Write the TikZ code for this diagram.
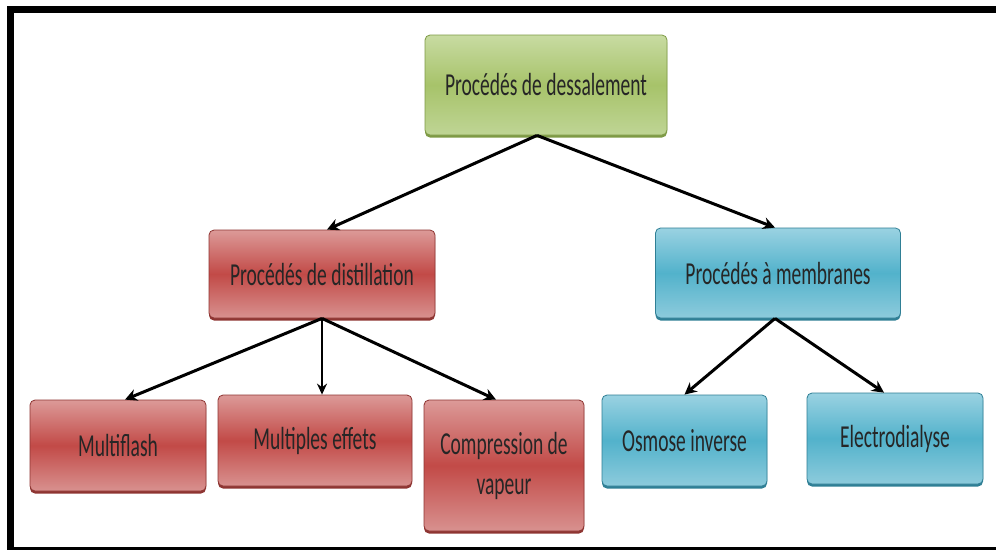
\documentclass[tikz,border=0pt]{standalone}
\usepackage{fontspec}
\setmainfont[FakeStretch=0.61]{Carlito}
\usetikzlibrary{arrows.meta,shadows}
\definecolor{gtop}{HTML}{C8DBA2}
\definecolor{gmid}{HTML}{A7C36A}
\definecolor{gbot}{HTML}{BFD595}
\definecolor{gdark}{HTML}{7E9A45}
\definecolor{rtop}{HTML}{DC9A98}
\definecolor{rmid}{HTML}{C24A47}
\definecolor{rbot}{HTML}{D8918F}
\definecolor{rdark}{HTML}{8E3532}
\definecolor{btop}{HTML}{9AD2E2}
\definecolor{bmid}{HTML}{52B2CB}
\definecolor{bbot}{HTML}{8DCBDC}
\definecolor{bdark}{HTML}{2F7F95}
\tikzset{
  boxbase/.style={rounded corners=5pt, align=center, inner sep=2pt,
    font=\fontsize{32}{40}\selectfont, text=black!85},
  greenbox/.style={boxbase, draw=gdark, line width=0.8pt, top color=gtop, bottom color=gbot, middle color=gmid,
    drop shadow={shadow xshift=0pt, shadow yshift=-2.5pt, fill=gdark, opacity=1}},
  redbox/.style={boxbase, draw=rdark, line width=0.8pt, top color=rtop, bottom color=rbot, middle color=rmid,
    drop shadow={shadow xshift=0pt, shadow yshift=-2.5pt, fill=rdark, opacity=1}},
  bluebox/.style={boxbase, draw=bdark, line width=0.8pt, top color=btop, bottom color=bbot, middle color=bmid,
    drop shadow={shadow xshift=0pt, shadow yshift=-2.5pt, fill=bdark, opacity=1}},
  arr/.style={line width=3pt, -{Stealth[length=12pt,width=12pt]}},
  thinarr/.style={line width=1.6pt, -{Stealth[length=11pt,width=10pt]}},
  frameline/.style={line width=7pt, black}
}
\begin{document}
\begin{tikzpicture}[x=1pt,y=-1pt]
\useasboundingbox[fill=white] (0,0) rectangle (996,550);
\draw[frameline] (996,9.5) -- (10.5,9.5) -- (10.5,550);
\draw[line width=3pt] (10.5,548.5) -- (996,548.5);

\node[greenbox, minimum width=242pt, minimum height=100pt] (top) at (546,85) {Procédés de dessalement};
\node[redbox, minimum width=226pt, minimum height=88pt] (dist) at (322,274) {Procédés de distillation};
\node[bluebox, minimum width=245pt, minimum height=90pt] (memb) at (778,273) {Procédés à membranes};
\node[redbox, minimum width=176pt, minimum height=91pt] (mf) at (118,445.5) {Multiflash};
\node[redbox, minimum width=194pt, minimum height=91pt] (me) at (315,440.5) {Multiples effets};
\node[redbox, minimum width=160pt, minimum height=131pt] (cv) at (504,465.5) {Compression de\\vapeur};
\node[bluebox, minimum width=165pt, minimum height=91pt] (oi) at (684.5,440.5) {Osmose inverse};
\node[bluebox, minimum width=176pt, minimum height=91pt] (ed) at (895,438.5) {Electrodialyse};

\draw[arr] ([xshift=-9pt]top.south) -- ([xshift=5pt]dist.north);
\draw[arr] ([xshift=-9pt]top.south) -- ([xshift=-3pt]memb.north);
\draw[arr] (dist.south) -- ([xshift=7pt]mf.north);
\draw[thinarr] (dist.south) -- ([xshift=7pt]me.north);
\draw[arr] (dist.south) -- ([xshift=-8pt]cv.north);
\draw[arr] ([xshift=-3pt]memb.south) -- (oi.north);
\draw[arr] ([xshift=-3pt]memb.south) -- ([xshift=-11pt]ed.north);
\end{tikzpicture}
\end{document}
